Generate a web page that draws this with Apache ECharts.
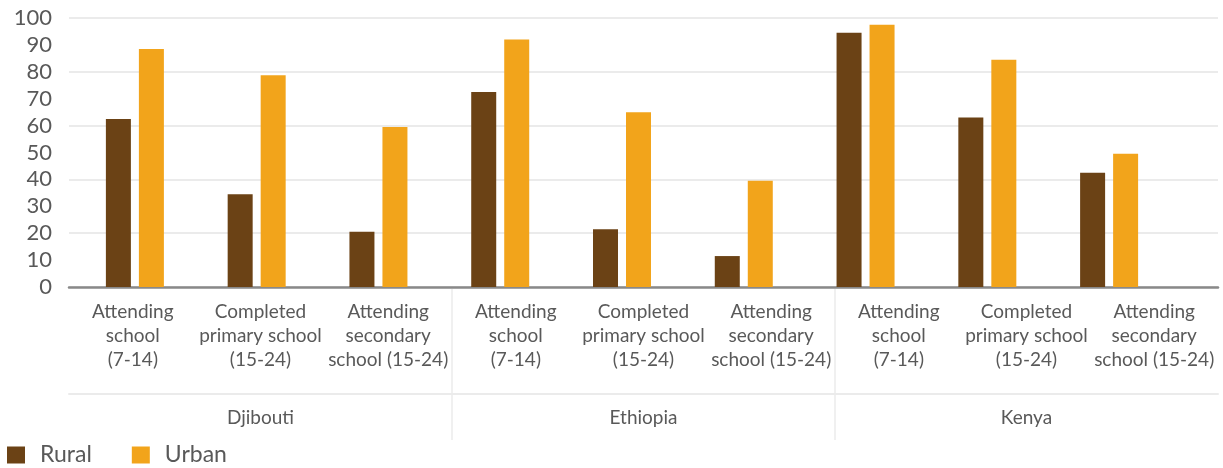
<!DOCTYPE html>
<html>
<head>
<meta charset="utf-8">
<script src="https://cdn.jsdelivr.net/npm/echarts@6/dist/echarts.min.js"></script>
<style>
  html, body { margin: 0; padding: 0; background: #ffffff; }
  #chart { width: 1223px; height: 468px; }
</style>
</head>
<body>
<div id="chart"></div>
<script>
// School attendance and completion, rural vs urban (%)
const countries = ['Djibouti', 'Ethiopia', 'Kenya'];
const indicators = [
  'Attending\nschool\n(7-14)',
  'Completed\nprimary school\n(15-24)',
  'Attending\nsecondary\nschool (15-24)'
];
const rural = [62.5, 34.5, 20.5, 72.5, 21.5, 11.5, 94.5, 63, 42.5];
const urban = [88.5, 78.7, 59.5, 92, 65, 39.5, 97.5, 84.5, 49.5];
const yMin = 0, yMax = 100, yLabelStep = 10, yGridStep = 20;

// one category per (country, indicator) pair
const categories = [];
countries.forEach(c => indicators.forEach(ind => categories.push(ind)));

const FONT = 'Lato';
const TEXT = '#595959';
const GRIDLINE = '#ebebeb';

const chart = echarts.init(document.getElementById('chart'), null, { renderer: 'canvas' });

chart.setOption({
  animation: false,
  backgroundColor: '#ffffff',
  textStyle: { fontFamily: FONT },
  grid: [
    { left: 69, right: 5, top: 18, bottom: 181 },   // frame: gridlines, value labels, category labels
    { left: 74, right: 53, top: 18, bottom: 181 },  // bars
    { left: 69, right: 5, top: 289, bottom: 28 }    // country band below the axis
  ],
  legend: {
    data: ['Rural', 'Urban'],
    left: 7,
    top: 442,
    padding: 0,
    icon: 'rect',
    itemWidth: 18,
    itemHeight: 17,
    itemGap: 40,
    textStyle: { fontFamily: FONT, fontSize: 23, lineHeight: 26, color: TEXT, padding: [0, 0, 0, 10] }
  },
  xAxis: [
    {
      type: 'category', gridIndex: 0, position: 'bottom',
      data: categories,
      axisLine: { onZero: false, lineStyle: { color: '#898989', width: 2.5 } },
      axisTick: { show: false },
      axisLabel: {
        interval: 0, margin: 13, fontFamily: FONT, fontSize: 19,
        lineHeight: 24, color: TEXT, align: 'center'
      },
      splitLine: { show: false }
    },
    {
      type: 'category', gridIndex: 1, data: categories, show: false
    },
    {
      type: 'category', gridIndex: 2, position: 'bottom',
      data: countries,
      axisLine: { show: false, onZero: false },
      axisTick: { show: false },
      axisLabel: {
        inside: true, margin: 13, fontFamily: FONT, fontSize: 19, color: TEXT
      },
      splitLine: {
        show: true, showMinLine: false, showMaxLine: false,
        lineStyle: { color: GRIDLINE, width: 1.5 }
      }
    },
    {
      type: 'category', gridIndex: 2, position: 'bottom', offset: -46,
      data: countries,
      axisLine: { show: true, onZero: false, lineStyle: { color: GRIDLINE, width: 2 } },
      axisTick: { show: false },
      axisLabel: { show: false },
      splitLine: { show: false }
    }
  ],
  yAxis: [
    {
      type: 'value', gridIndex: 0, position: 'left',
      min: yMin, max: yMax, interval: yLabelStep,
      axisLine: { show: false }, axisTick: { show: false },
      axisLabel: { margin: 17, fontFamily: FONT, fontSize: 22, color: TEXT },
      splitLine: { show: false }
    },
    {
      type: 'value', gridIndex: 0, position: 'left',
      min: yMin, max: yMax, interval: yGridStep,
      axisLine: { show: false }, axisTick: { show: false },
      axisLabel: { show: false },
      splitLine: { show: true, lineStyle: { color: GRIDLINE, width: 2 } }
    },
    {
      type: 'value', gridIndex: 1, min: yMin, max: yMax, show: false,
      splitLine: { show: false }
    },
    {
      type: 'value', gridIndex: 2, min: 0, max: 1, show: false,
      splitLine: { show: false }
    }
  ],
  series: [
    {
      name: 'Rural', type: 'bar', xAxisIndex: 1, yAxisIndex: 2,
      data: rural, barWidth: 25, barGap: '32%',
      itemStyle: { color: '#6b4215' }
    },
    {
      name: 'Urban', type: 'bar', xAxisIndex: 1, yAxisIndex: 2,
      data: urban, barWidth: 25, barGap: '32%',
      itemStyle: { color: '#f2a41b' }
    }
  ]
});
</script>
</body>
</html>
